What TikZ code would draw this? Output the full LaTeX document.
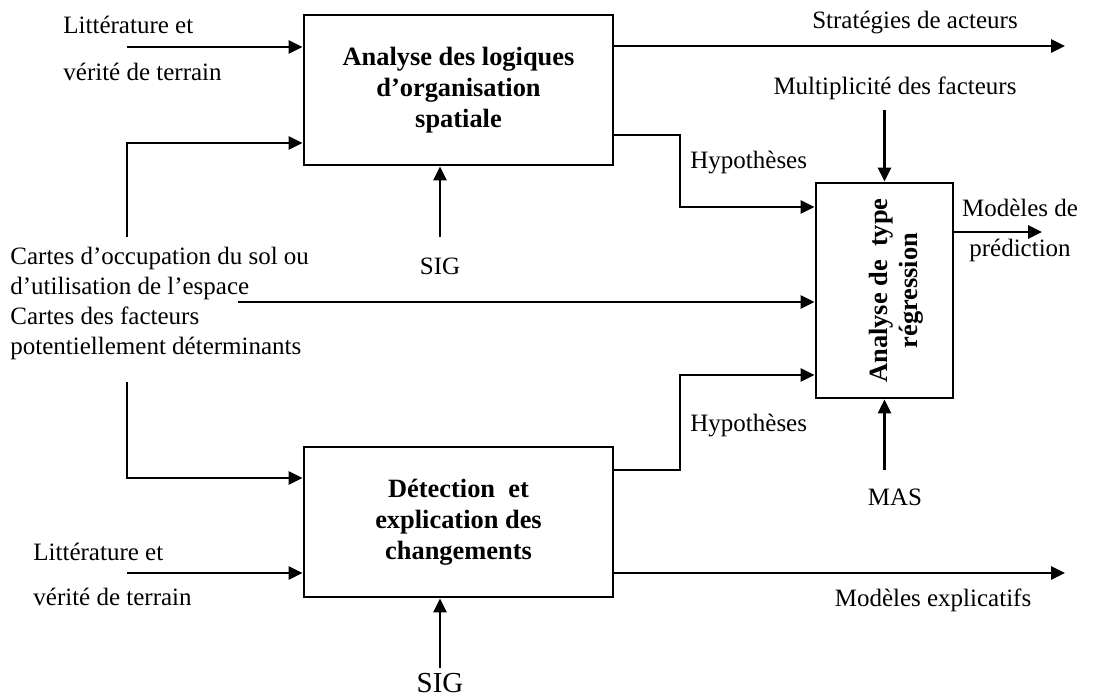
\documentclass[tikz,border=0pt]{standalone}
\usepackage{fontspec}
\setmainfont{Liberation Serif}
\usetikzlibrary{arrows.meta,positioning}

\begin{document}
\begin{tikzpicture}[x=0.5pt,y=-0.5pt]
\tikzset{
  procbox/.style={draw=black,line width=1.4pt,minimum width=154.5pt,minimum height=75pt,align=center,inner sep=2pt,font=\fontsize{13.2}{15.5}\selectfont\bfseries},
  flowarrow/.style={draw=black,line width=1.4pt,-{Triangle[length=7pt,width=6.5pt]}},
  lbl/.style={inner sep=0pt,font=\fontsize{12.5}{15}\selectfont}
}
\useasboundingbox (0,0) rectangle (1113,696);
\node[procbox] (A) at (458.5,90) {Analyse des logiques\\d’organisation\\spatiale};
\node[procbox] (B) at (458.5,522) {Détection\ \ et\\explication des\\changements};
\node[procbox,minimum width=68.5pt,minimum height=107.5pt] (R) at (884.5,290.5) {\hspace*{12pt}\rotatebox{90}{\fontsize{13.2}{15}\selectfont\begin{tabular}{@{}c@{}}Analyse de\ \ type\\régression\end{tabular}}};
\node[lbl,anchor=west] (litA1) at (63,25) {Littérature et};
\node[lbl,anchor=west] (litA2) at (63,72) {vérité de terrain};
\node[lbl] (strat) at (915,23) {Stratégies de acteurs};
\node[lbl] (multi) at (895,88) {Multiplicité des facteurs};
\node[lbl,anchor=west] (hypA) at (690,163) {Hypothèses};
\node[lbl] (sigA) at (440,266) {SIG};
\node[lbl,align=left,anchor=west] (cartes) at (10,303) {Cartes d’occupation du sol ou\\d’utilisation de l’espace\\Cartes des facteurs\\potentiellement déterminants};
\node[lbl,align=center] (pred) at (1020,230) {Modèles de\\[5pt]prédiction};
\node[lbl,anchor=west] (hypB) at (690,425) {Hypothèses};
\node[lbl] (mas) at (895,497) {MAS};
\node[lbl,anchor=west] (litB1) at (33,552) {Littérature et};
\node[lbl,anchor=west] (litB2) at (33,597) {vérité de terrain};
\node[lbl] (expl) at (933,600) {Modèles explicatifs};
\node[lbl,font=\fontsize{14.5}{17}\selectfont] (sigB) at (440,683) {SIG};
\coordinate (inA) at (127,47);
\coordinate (cUp) at (127,237);
\coordinate (sigAtop) at (440,237);
\coordinate (hA) at (680,171);
\coordinate (stratEnd) at (1065,46);
\coordinate (multiTop) at (884.5,110);
\coordinate (cMid) at (238,302);
\coordinate (predEnd) at (1042,232);
\coordinate (hB) at (680,420);
\coordinate (masBot) at (884.5,470);
\coordinate (cDown) at (127,382);
\coordinate (inB) at (127,573);
\coordinate (explEnd) at (1065,573);
\coordinate (sigBbot) at (440,668);
\draw[flowarrow] (inA) -- (A.west |- inA);
\draw[flowarrow] (cUp) |- (A.west |- 0,143);
\draw[flowarrow] (sigAtop) -- (sigAtop |- A.south);
\draw[flowarrow] (A.east |- stratEnd) -- (stratEnd);
\draw[flowarrow] (A.east |- 0,135) -| (hA) |- (R.west |- 0,207);
\draw[flowarrow] (multiTop) -- (R.north);
\draw[flowarrow] (cMid) -- (R.west |- cMid);
\draw[flowarrow] (R.east |- predEnd) -- (predEnd);
\draw[flowarrow] (B.east |- 0,470) -| (hB) |- (R.west |- 0,375);
\draw[flowarrow] (masBot) -- (R.south);
\draw[flowarrow] (cDown) |- (B.west |- 0,478);
\draw[flowarrow] (inB) -- (B.west |- inB);
\draw[flowarrow] (B.east |- explEnd) -- (explEnd);
\draw[flowarrow] (sigBbot) -- (sigBbot |- B.south);
\end{tikzpicture}
\end{document}
